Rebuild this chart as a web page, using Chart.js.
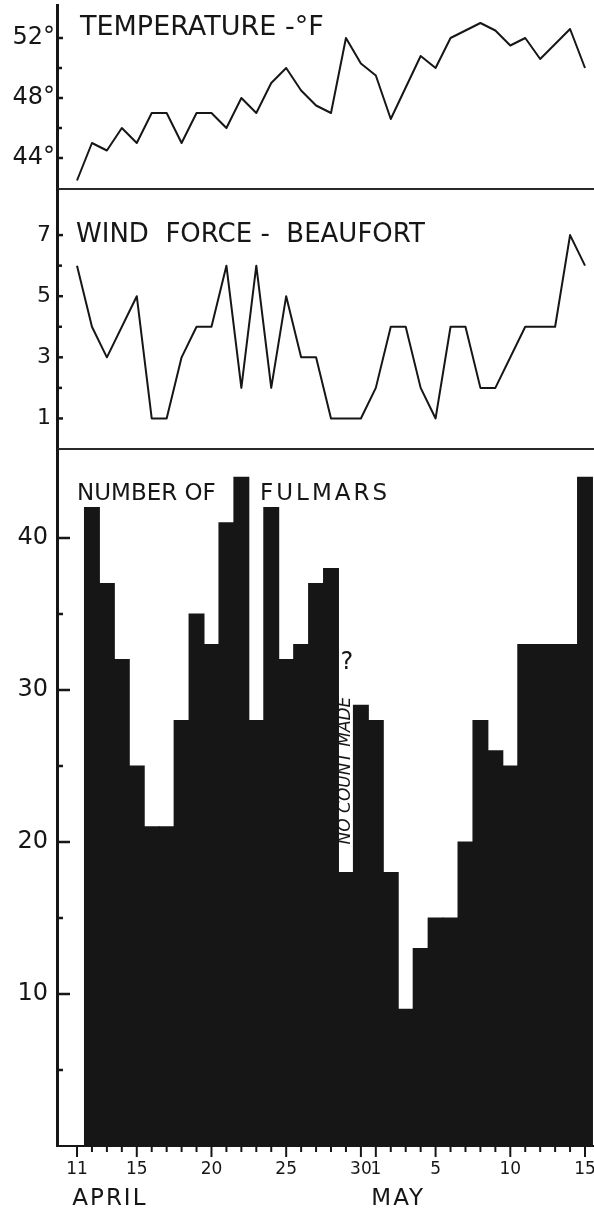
<!DOCTYPE html>
<html>
<head>
<meta charset="utf-8">
<script src="https://cdn.jsdelivr.net/npm/chart.js@4.4.1/dist/chart.umd.min.js"></script>
<style>
  html, body { margin: 0; padding: 0; background: #fff; }
  #sheet { position: relative; width: 594px; height: 1209px; overflow: hidden; }
  #sheet canvas { position: absolute; left: 0; }
</style>
</head>
<body>
<div id="sheet">
  <canvas id="tempCanvas" width="594" height="191" style="top:0px"></canvas>
  <canvas id="windCanvas" width="594" height="262" style="top:189px"></canvas>
  <canvas id="fulmarCanvas" width="594" height="760" style="top:449px"></canvas>
</div>
<script>
// day 0 = 11 April, day 20 = 1 May, day 34 = 15 May
const tempDays   = [0,1,2,3,4,5,6,7,8,9,10,11,12,13,14,15,16,17,18,19,20,21,23,24,25,26,27,28,29,30,31,33,34];
const tempValues = [42.5,45,44.5,46,45,47,47,45,47,47,46,48,47,49,50,48.5,47.5,47,52,50.3,49.5,46.6,50.8,50,52,52.5,53,52.5,51.5,52,50.6,52.6,50];

const windDays   = [0,1,2,4,5,6,7,8,9,10,11,12,13,14,15,16,17,18,19,20,21,22,23,24,25,26,27,28,30,31,32,33,34];
const windValues = [6,4,3,5,1,1,3,4,4,6,2,6,2,5,3,3,1,1,1,2,4,4,2,1,4,4,2,2,4,4,4,7,6];

const fulmarDays   = [1,2,3,4,5,6,7,8,9,10,11,12,13,14,15,16,17,18,19,20,21,22,23,24,25,26,27,28,29,30,31,32,33,34];
const fulmarCounts = [42,37,32,25,21,21,28,35,33,41,44,28,42,32,33,37,38,18,29,28,18,9,13,15,15,20,28,26,25,33,33,33,33,44];
const noCountDay = 18;

const dayTickDays = [0,4,9,14,19,20,24,29,34];
const dayTickText = ['11','15','20','25','30','1','5','10','15'];
const monthNames   = ['APRIL','MAY'];
const monthCentres = [2.2, 21.5];

const tempTicks    = [44,46,48,50,52];
const tempTickText = ['44°','','48°','','52°'];
const windTicks    = [1,2,3,4,5,6,7];
const windTickText = ['1','','3','','5','','7'];
const fulmarTicks    = [5,10,15,20,25,30,35,40];
const fulmarTickText = ['','10','','20','','30','','40'];

const INK = '#161616';
const FONT = "'DejaVu Sans', 'Liberation Sans', sans-serif";
const X_MIN = -1.339, X_MAX = 34.602;

Chart.defaults.font.family = FONT;
Chart.defaults.color = INK;

// inward tick marks, panel base line and titles
const decor = {
  id: 'decor',
  afterDraw(chart, args, o) {
    const {ctx, chartArea: a, scales: {y}} = chart;
    ctx.save();
    ctx.strokeStyle = INK;
    ctx.fillStyle = INK;
    ctx.lineWidth = 2.5;
    y.ticks.forEach(t => {
      const py = y.getPixelForValue(t.value);
      const len = t.label ? o.major : o.minor;
      ctx.beginPath();
      ctx.moveTo(a.left, py);
      ctx.lineTo(a.left + len, py);
      ctx.stroke();
    });
    if (o.baseLine) {
      ctx.lineWidth = 2;
      ctx.strokeStyle = '#2a2a2a';
      ctx.beginPath();
      ctx.moveTo(a.left, a.bottom);
      ctx.lineTo(a.right, a.bottom);
      ctx.stroke();
    }
    ctx.textAlign = 'left';
    ctx.textBaseline = 'alphabetic';
    (o.titles || []).forEach(t => {
      ctx.font = t.font;
      ctx.letterSpacing = t.spacing || '0px';
      ctx.fillText(t.text, a.left + t.dx, a.top + t.dy);
    });
    ctx.restore();
  }
};

// day ticks, month names and the "no count" note
const fulmarExtras = {
  id: 'fulmarExtras',
  afterDraw(chart) {
    const {ctx, chartArea: a, scales: {x, y}} = chart;
    ctx.save();
    ctx.strokeStyle = INK;
    ctx.fillStyle = INK;
    ctx.lineWidth = 2;
    for (let d = 0; d <= 34; d++) {
      const px = x.getPixelForValue(d);
      const len = dayTickDays.includes(d) ? 11 : 6;
      ctx.beginPath();
      ctx.moveTo(px, a.bottom);
      ctx.lineTo(px, a.bottom + len);
      ctx.stroke();
    }
    ctx.font = '23px ' + FONT;
    ctx.letterSpacing = '2px';
    ctx.textAlign = 'center';
    ctx.textBaseline = 'alphabetic';
    monthNames.forEach((m, i) => ctx.fillText(m, x.getPixelForValue(monthCentres[i]), a.bottom + 59));

    const nx = x.getPixelForValue(noCountDay);
    ctx.letterSpacing = '0px';
    ctx.textBaseline = 'middle';
    ctx.font = '24px ' + FONT;
    ctx.fillText('?', nx + 1, y.getPixelForValue(31.8));
    ctx.translate(nx, y.getPixelForValue(24.7));
    ctx.rotate(-Math.PI / 2);
    ctx.font = 'italic 17px ' + FONT;
    ctx.fillText('NO COUNT MADE', 0, 0);
    ctx.restore();
  }
};

function yAxis(min, max, ticks, text, size, pad) {
  return {
    min: min, max: max,
    afterBuildTicks: s => { s.ticks = ticks.map(v => ({value: v})); },
    afterFit: s => { s.width = 57; s.paddingTop = 0; s.paddingBottom = 0; },
    grid: {display: false, drawTicks: false},
    border: {display: true, color: INK, width: 3},
    ticks: {
      autoSkip: false, padding: pad, color: INK,
      font: {family: FONT, size: size},
      callback: v => text[ticks.indexOf(v)]
    }
  };
}

const hiddenX = {type: 'linear', min: X_MIN, max: X_MAX, display: false};

function lineSet(days, vals) {
  return {
    data: days.map((d, i) => ({x: d, y: vals[i]})),
    borderColor: INK, borderWidth: 2, pointRadius: 0, tension: 0,
    fill: false, borderJoinStyle: 'round'
  };
}

new Chart(document.getElementById('tempCanvas'), {
  type: 'line',
  data: {datasets: [lineSet(tempDays, tempValues)]},
  options: {
    animation: false, responsive: false, devicePixelRatio: 1,
    layout: {padding: {top: 5, bottom: 2, left: 0, right: 0}, autoPadding: false},
    scales: {x: hiddenX, y: yAxis(41.933, 54.2, tempTicks, tempTickText, 24, 2)},
    plugins: {
      legend: {display: false}, tooltip: {enabled: false},
      decor: {major: 6, minor: 5, baseLine: true,
        titles: [{text: 'TEMPERATURE -°F', font: '27px ' + FONT, dx: 23, dy: 30}]}
    }
  },
  plugins: [decor]
});

new Chart(document.getElementById('windCanvas'), {
  type: 'line',
  data: {datasets: [lineSet(windDays, windValues)]},
  options: {
    animation: false, responsive: false, devicePixelRatio: 1,
    layout: {padding: {top: 0, bottom: 2, left: 0, right: 0}, autoPadding: false},
    scales: {x: hiddenX, y: yAxis(0, 8.508, windTicks, windTickText, 22, 6)},
    plugins: {
      legend: {display: false}, tooltip: {enabled: false},
      decor: {major: 6, minor: 5, baseLine: true,
        titles: [{text: 'WIND  FORCE -  BEAUFORT', font: '26px ' + FONT, dx: 19, dy: 53}]}
    }
  },
  plugins: [decor]
});

new Chart(document.getElementById('fulmarCanvas'), {
  type: 'bar',
  data: {
    datasets: [{
      data: fulmarDays.map((d, i) => ({x: d, y: fulmarCounts[i]})),
      backgroundColor: INK, borderWidth: 0,
      barPercentage: 1, categoryPercentage: 1, inflateAmount: 0.5
    }]
  },
  options: {
    animation: false, responsive: false, devicePixelRatio: 1,
    layout: {padding: 0, autoPadding: false},
    scales: {
      x: {
        type: 'linear', min: X_MIN, max: X_MAX, offset: false,
        afterBuildTicks: s => {
          const t = [];
          for (let d = 0; d <= 34; d++) t.push({value: d});
          s.ticks = t;
        },
        afterFit: s => { s.height = 63; s.paddingLeft = 0; s.paddingRight = 0; },
        grid: {display: false, drawTicks: false, offset: false},
        border: {display: true, color: INK, width: 2},
        ticks: {
          autoSkip: false, maxRotation: 0, padding: 13, color: INK,
          font: {family: FONT, size: 17},
          callback: v => {
            const k = dayTickDays.indexOf(v);
            return k < 0 ? '' : dayTickText[k];
          }
        }
      },
      y: yAxis(0, 45.855, fulmarTicks, fulmarTickText, 24, 9)
    },
    plugins: {
      legend: {display: false}, tooltip: {enabled: false},
      decor: {major: 13, minor: 6, baseLine: false,
        titles: [
          {text: 'NUMBER OF', font: '23px ' + FONT, dx: 20, dy: 51},
          {text: 'FULMARS', font: '23px ' + FONT, dx: 203, dy: 51, spacing: '3px'}
        ]}
    }
  },
  plugins: [decor, fulmarExtras]
});
</script>
</body>
</html>
